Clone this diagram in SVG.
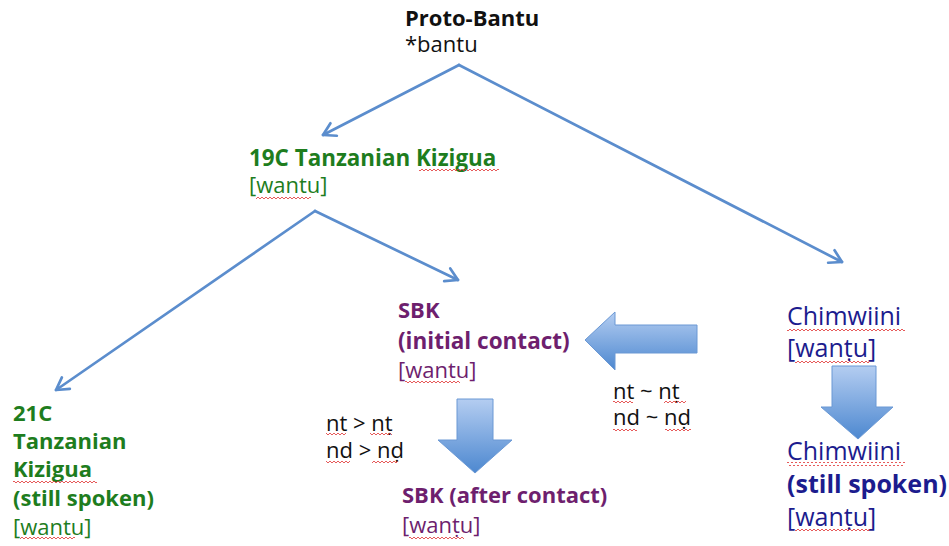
<svg xmlns="http://www.w3.org/2000/svg" width="949" height="546" viewBox="0 0 949 546">
<style>
text{font-family:"Open Sans","Noto Sans","Liberation Sans",sans-serif;font-size:22px}
.b{font-weight:bold}
.k{fill:#111111}
.g{fill:#1e7d1e}
.p{fill:#6e1f6e}
.n{fill:#1c1c8e}
.big{font-size:25px}
.edge{fill:none;stroke:#5b8dcd;stroke-width:2.7;stroke-linecap:round}
.blk{stroke:#6a98d4;stroke-width:1}
.sq{fill:url(#squig)}
</style>
<defs>
<marker id="ah" markerUnits="userSpaceOnUse" markerWidth="22" markerHeight="22" viewBox="-15 -11 17 22" refX="0" refY="0" orient="auto">
<path d="M-12,-7 L0,0 L-12,7" fill="none" stroke="#5b8dcd" stroke-width="2.7" stroke-linecap="round" stroke-linejoin="round"/>
</marker>
<linearGradient id="fill" x1="0" y1="0" x2="0" y2="1">
<stop offset="0" stop-color="#b4cdf1"/>
<stop offset="1" stop-color="#4d88d0"/>
</linearGradient>
<pattern id="squig" patternUnits="userSpaceOnUse" width="4" height="4">
<path d="M0,3 L2,1 L4,3" fill="none" stroke="#e03030" stroke-width="0.8"/>
</pattern>
</defs>

<g id="connectors">
<line class="edge" x1="459" y1="65" x2="323" y2="135" marker-end="url(#ah)"/>
<line class="edge" x1="459" y1="65" x2="842" y2="262" marker-end="url(#ah)"/>
<line class="edge" x1="315" y1="211" x2="56" y2="390" marker-end="url(#ah)"/>
<line class="edge" x1="315" y1="211" x2="458" y2="280" marker-end="url(#ah)"/>
<path id="arrow-contact" class="blk" fill="url(#fill)" d="M585,340 L615,312 L615,325 L697,325 L697,353 L615,353 L615,370 Z"/>
<path id="arrow-sbk" class="blk" fill="url(#fill)" d="M457,399 L493,399 L493,440 L512,440 L475,473 L438,440 L457,440 Z"/>
<path id="arrow-chim" class="blk" fill="url(#fill)" d="M832,366 L876,366 L876,407 L893,407 L858,439 L821,407 L832,407 Z"/>
</g>

<g id="proto-bantu">
<text class="b k" x="405" y="26">Proto-Bantu</text>
<text class="k" x="405" y="52">*bantu</text>
</g>

<g id="kizigua-19c">
<text class="b g" x="249" y="166" style="font-size:22.4px">19C Tanzanian Kizigua</text>
<text class="g" x="249" y="193">[wantu]</text>
<rect class="sq" x="419" y="168" width="80" height="4"/>
<rect class="sq" x="256" y="195" width="55" height="4"/>
</g>

<g id="kizigua-21c">
<text class="b g" x="13" y="421">21C</text>
<text class="b g" x="13" y="449">Tanzanian</text>
<text class="b g" x="13" y="477">Kizigua</text>
<text class="b g" x="13" y="506">(still spoken)</text>
<text class="g" x="13" y="535">[wantu]</text>
<rect class="sq" x="13" y="479" width="84" height="4"/>
<rect class="sq" x="20" y="537" width="55" height="4"/>
</g>

<g id="sbk-initial">
<text class="b p" x="398" y="318">SBK</text>
<text class="b p" x="398" y="349" style="font-size:22.5px">(initial contact)</text>
<text class="p" x="398" y="378">[wantu]</text>
<rect class="sq" x="405" y="380" width="55" height="4"/>
</g>

<g id="sbk-after">
<text class="b p" x="402" y="503">SBK (after contact)</text>
<text class="p" x="402" y="533">[wanṭu]</text>
<rect class="sq" x="409" y="535" width="55" height="4"/>
</g>

<g id="change-sbk">
<text class="k" x="326" y="431">nt &gt; nṭ</text>
<text class="k" x="326" y="458">nd &gt; nḍ</text>
<rect class="sq" x="326" y="433" width="20" height="4"/>
<rect class="sq" x="370" y="433" width="22" height="4"/>
<rect class="sq" x="326" y="460" width="24" height="4"/>
<rect class="sq" x="372" y="460" width="26" height="4"/>
</g>

<g id="change-contact">
<text class="k" x="613" y="399">nt ~ nṭ</text>
<text class="k" x="613" y="425">nd ~ nḍ</text>
<rect class="sq" x="613" y="401" width="20" height="4"/>
<rect class="sq" x="664" y="401" width="22" height="4"/>
<rect class="sq" x="613" y="427" width="24" height="4"/>
<rect class="sq" x="665" y="427" width="26" height="4"/>
</g>

<g id="chimwiini">
<text class="n big" x="787" y="325">Chimwiini</text>
<text class="n big" x="787" y="357">[wanṭu]</text>
<rect class="sq" x="787" y="327" width="118" height="4"/>
<rect class="sq" x="795" y="359" width="75" height="4"/>
</g>

<g id="chimwiini-still">
<text class="n big" x="787" y="460">Chimwiini</text>
<text class="b n big" x="787" y="493">(still spoken)</text>
<text class="n big" x="787" y="526">[wanṭu]</text>
<rect class="sq" x="787" y="462" width="118" height="4"/>
<rect class="sq" x="795" y="528" width="75" height="4"/>
</g>
</svg>
